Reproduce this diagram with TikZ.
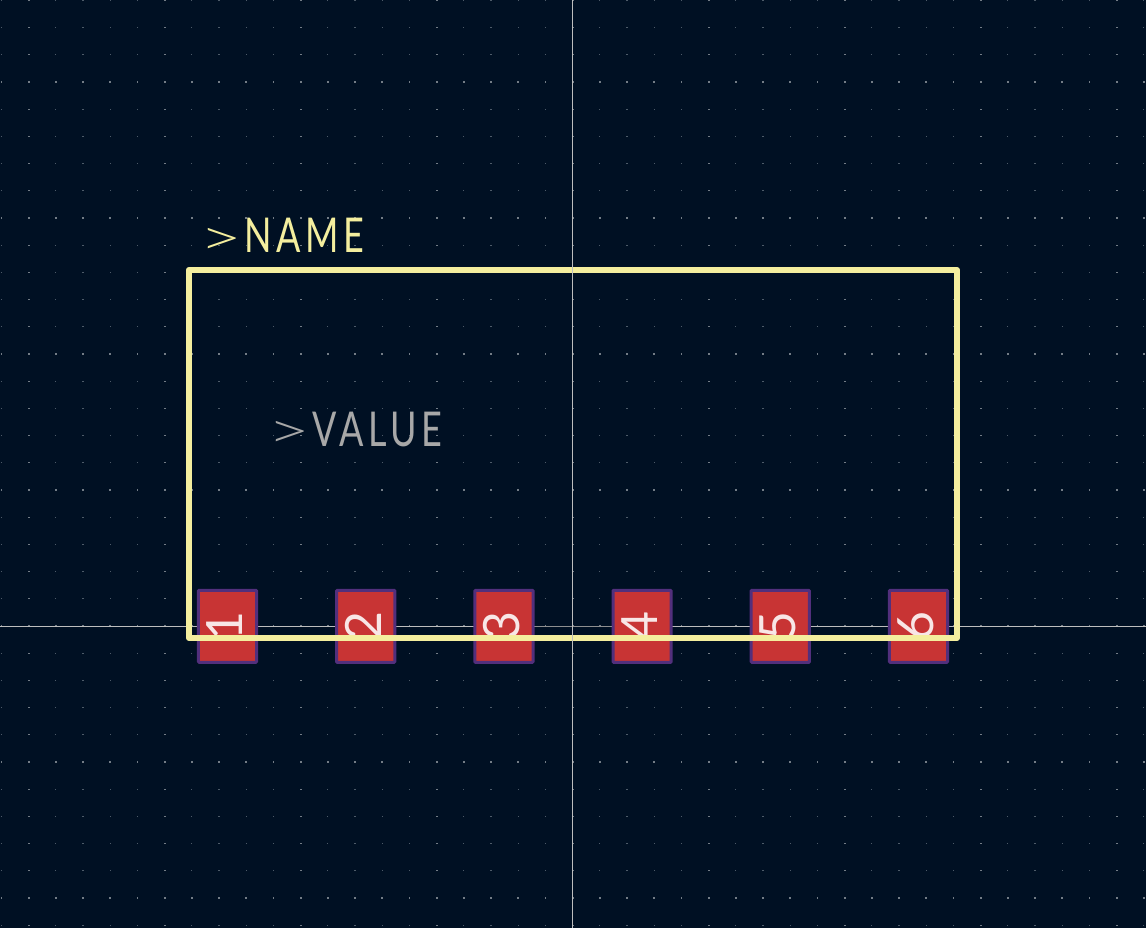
\documentclass[tikz,border=0pt]{standalone}
\usepackage{fontspec}
\setmainfont{Lato}
\newfontfamily\strokefont[LetterSpace=13]{Lato}
\newfontfamily\signfont{Lato Light}
\definecolor{boardbg}{HTML}{001023}
\definecolor{silk}{HTML}{F4EE9E}
\definecolor{fabgrey}{HTML}{A8A8A8}
\definecolor{padred}{HTML}{C83434}
\definecolor{padedge}{HTML}{522F7C}
\definecolor{axisgrey}{HTML}{BDBDBD}
\definecolor{axisdim}{HTML}{8E8F90}
\definecolor{griddot}{HTML}{4E5B69}
\definecolor{griddotmajor}{HTML}{737C86}
\definecolor{padtext}{HTML}{F8E6E6}
\newcommand{\widesign}{\raisebox{-2pt}{\scalebox{1.55}[1.05]{\signfont >}}\hspace{2pt}}
\newcommand{\narrowtext}[1]{\scalebox{0.75}[1]{#1}}
\tikzset{
  padbox/.style={draw=padedge,line width=3pt,fill=padred,minimum width=58.2pt,minimum height=72pt,inner sep=0pt,rounded corners=0.8pt},
  padnum/.style={text=padtext,font=\fontsize{50}{50}\selectfont,inner sep=0pt,anchor=center,rotate=90},
  silkline/.style={draw=silk,line width=6.2pt,line join=round,line cap=round},
  axisline/.style={draw=axisgrey,line width=0.8pt},
  axisdimline/.style={draw=axisdim,line width=0.8pt},
  reftext/.style={inner sep=0pt,anchor=base west,font=\fontsize{48}{48}\selectfont\strokefont}
}
\begin{document}
\begin{tikzpicture}[x=1pt,y=-1pt]
\useasboundingbox (0,0) rectangle (1146,928);
\fill[boardbg] (0,0) rectangle (1146,928);
% grid dots
\foreach \i in {-21,...,21}{
  \foreach \j in {-23,...,11}{
    \pgfmathsetmacro{\px}{572.6+27.2*\i}
    \pgfmathsetmacro{\py}{626+27.2*\j}
    \pgfmathparse{(mod(abs(\i),5)==0 || mod(abs(\j),5)==0)?1:0}
    \ifnum\pgfmathresult=1
      \fill[griddotmajor] (\px-0.9,\py-0.6) rectangle (\px+0.9,\py+0.6);
    \else
      \fill[griddot] (\px-0.6,\py-0.6) rectangle (\px+0.6,\py+0.6);
    \fi
  }
}
% axes
\coordinate (axl) at (0,626.3);
\coordinate (axr) at (1146,626.3);
\coordinate (axt) at (572.5,0);
\coordinate (axb) at (572.5,928);
\draw[axisline] (axl) -- (axr);
% pads
\foreach \n/\x in {1/227.5,2/365.7,3/503.9,4/642.1,5/780.3,6/918.5}{
  \node[padbox] (pad\n) at (\x,626.3) {};
  \node[padnum] (num\n) at ([xshift=-2.5pt]pad\n.center) {\n};
}
\draw[axisdimline] (pad3.east |- axl) -- (pad4.west |- axl);
% silkscreen outline
\coordinate (nw) at (189,270);
\coordinate (ne) at (957,270);
\coordinate (se) at (957,638);
\coordinate (sw) at (189,638);
\draw[silkline] (nw) -- (ne) -- (se) -- (sw) -- cycle;
\draw[axisline] (axt) -- (axb);
% reference texts
\node[reftext,text=silk] (name) at (199,253) {\widesign\narrowtext{NAME}};
\node[reftext,text=fabgrey] (value) at (267,446) {\widesign\narrowtext{VALUE}};
\end{tikzpicture}
\end{document}
